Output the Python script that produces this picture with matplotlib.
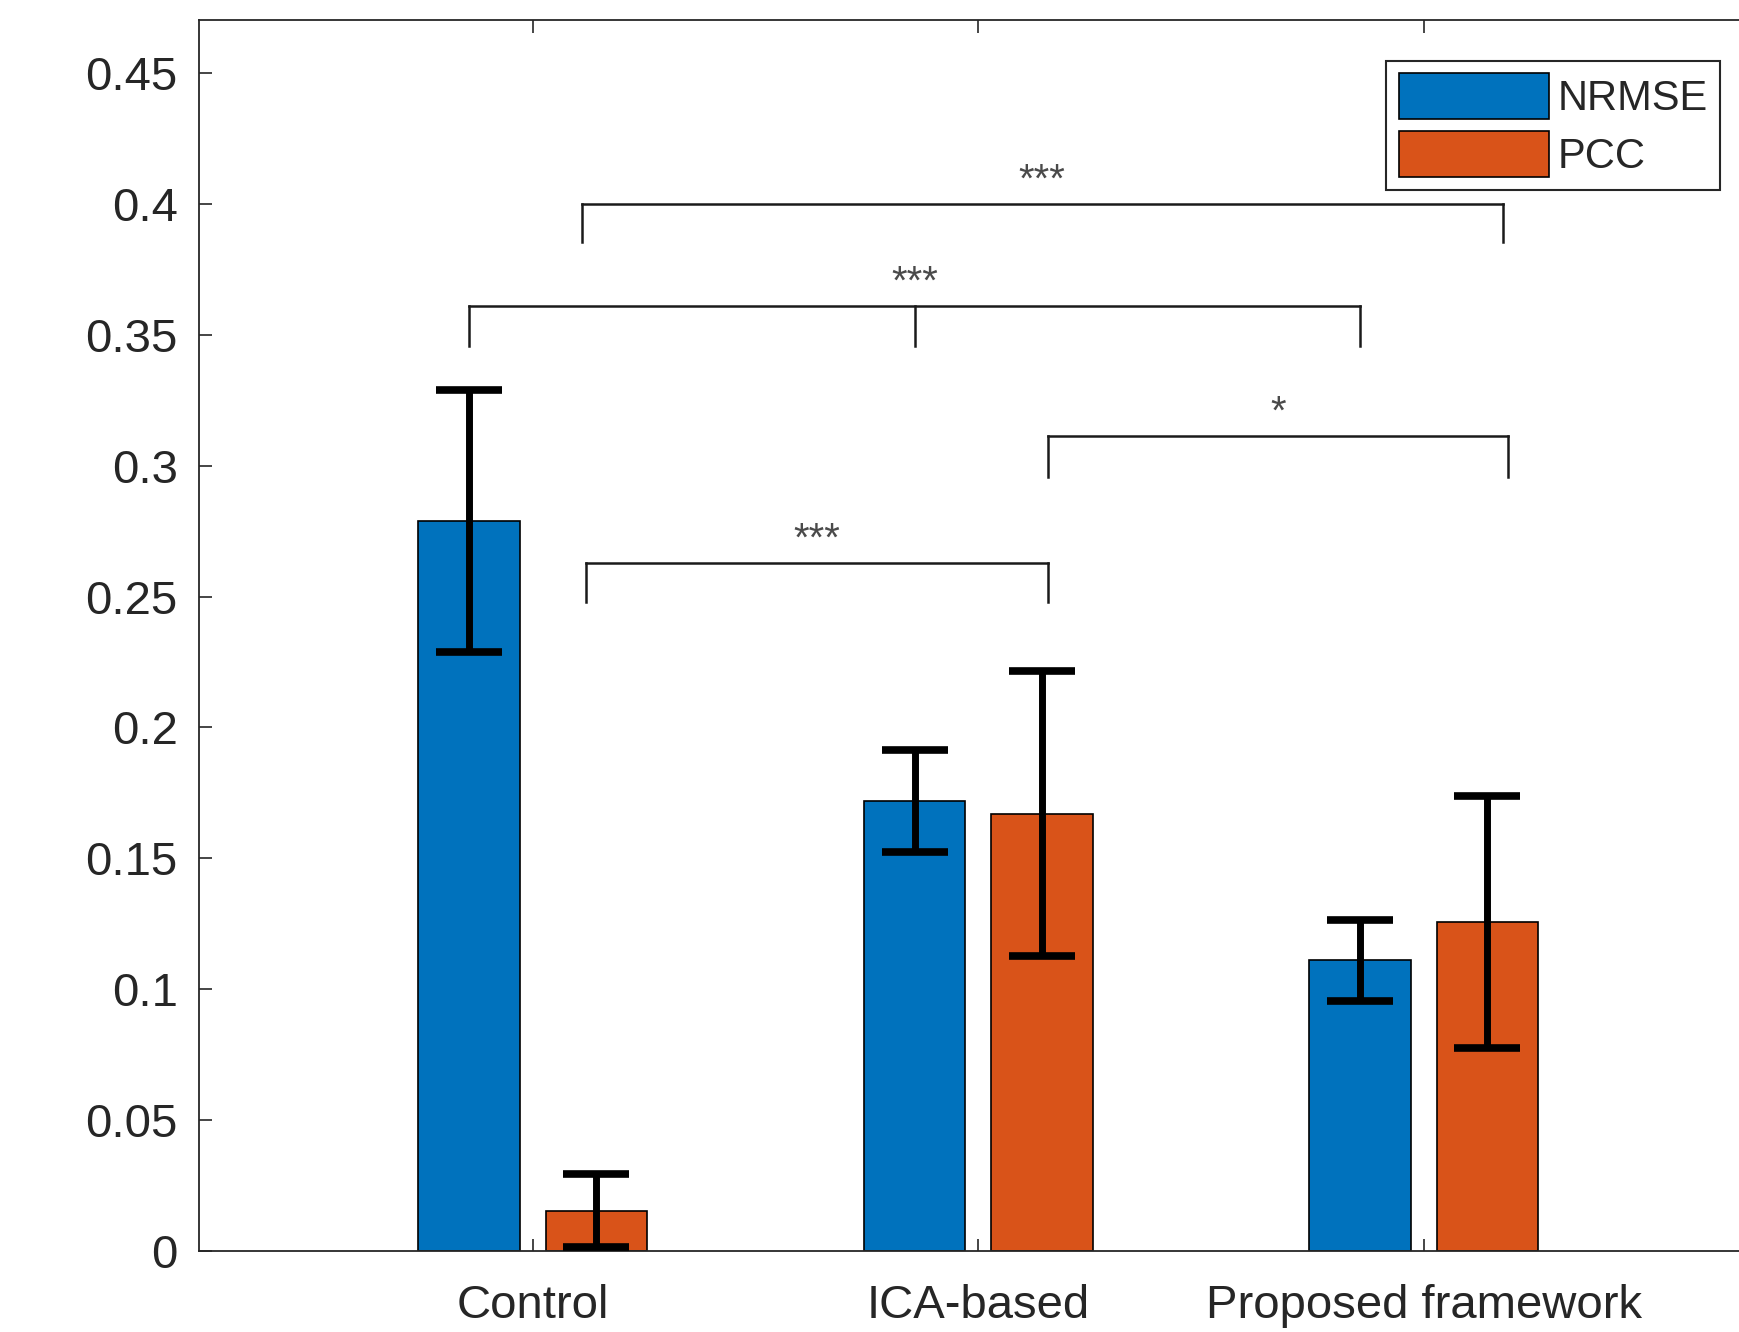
import matplotlib
matplotlib.use("Agg")
import matplotlib.pyplot as plt
import numpy as np

plt.rcParams['font.family'] = ['Liberation Sans', 'DejaVu Sans']

# data
groups = ['Control', 'ICA-based', 'Proposed framework']
nrmse = [0.279, 0.172, 0.111]
nrmse_err = [0.050, 0.0195, 0.0155]
pcc = [0.0153, 0.167, 0.1256]
pcc_err = [0.014, 0.0545, 0.048]

yticks = [0, 0.05, 0.1, 0.15, 0.2, 0.25, 0.3, 0.35, 0.4, 0.45]
ytick_labels = ['0', '0.05', '0.1', '0.15', '0.2', '0.25', '0.3', '0.35', '0.4', '0.45']

# significance brackets: (leg x positions, bar height, leg bottom, label)
brackets = [
    ([1.11, 3.177], 0.400, 0.3857, '***'),
    ([0.857, 1.857, 2.857], 0.361, 0.346, '***'),
    ([2.157, 3.19], 0.3114, 0.2957, '*'),
    ([1.12, 2.157], 0.263, 0.2478, '***'),
]

blue = '#0072BD'
orange = '#D95319'
dark = '#262626'

fig = plt.figure(figsize=(17.4, 13.32), dpi=100)
ax = fig.add_axes([0.1142, 0.0611, 0.896, 0.924])

x = np.arange(1, len(groups) + 1)
off = 0.143
w = 0.228
ax.bar(x - off, nrmse, w, color=blue, edgecolor='black', linewidth=1.2, label='NRMSE', zorder=2)
ax.bar(x + off, pcc, w, color=orange, edgecolor='black', linewidth=1.2, label='PCC', zorder=2)
ax.errorbar(x - off, nrmse, yerr=nrmse_err, fmt='none', ecolor='black',
            elinewidth=5, capsize=24, capthick=5.5, zorder=3)
ax.errorbar(x + off, pcc, yerr=pcc_err, fmt='none', ecolor='black',
            elinewidth=5, capsize=24, capthick=5.5, zorder=3)

for xs, top, bot, lab in brackets:
    ax.plot([xs[0], xs[-1]], [top, top], color='#1a1a1a', lw=1.8, zorder=4)
    for xx in xs:
        ax.plot([xx, xx], [top, bot], color='#1a1a1a', lw=1.8, zorder=4)
    ax.text((xs[0] + xs[-1]) / 2, top + 0.0047, lab, ha='center', va='baseline',
            fontsize=29, color='#4a4a4a')

ax.set_xlim(0.25, 3.75)
ax.set_ylim(0, 0.4705)
ax.set_xticks(x)
ax.set_xticklabels(groups)
ax.set_yticks(yticks)
ax.set_yticklabels(ytick_labels)
ax.tick_params(axis='both', direction='in', top=True, right=True, length=9,
               width=1.2, color=dark, labelcolor=dark, labelsize=34)
ax.tick_params(axis='y', pad=15)
ax.tick_params(axis='x', pad=24)
for s in ax.spines.values():
    s.set_linewidth(1.3)
    s.set_color(dark)

leg = ax.legend(loc='upper right', bbox_to_anchor=(0.9758, 0.9667), borderaxespad=0,
                fontsize=30, fancybox=False, edgecolor=dark, handlelength=3.6,
                handleheight=1.3, handletextpad=0.2, borderpad=0.3, labelspacing=0.3,
                framealpha=1)
leg.get_frame().set_linewidth(1.5)
for t in leg.get_texts():
    t.set_color(dark)

fig.savefig('out.png', dpi=100)
